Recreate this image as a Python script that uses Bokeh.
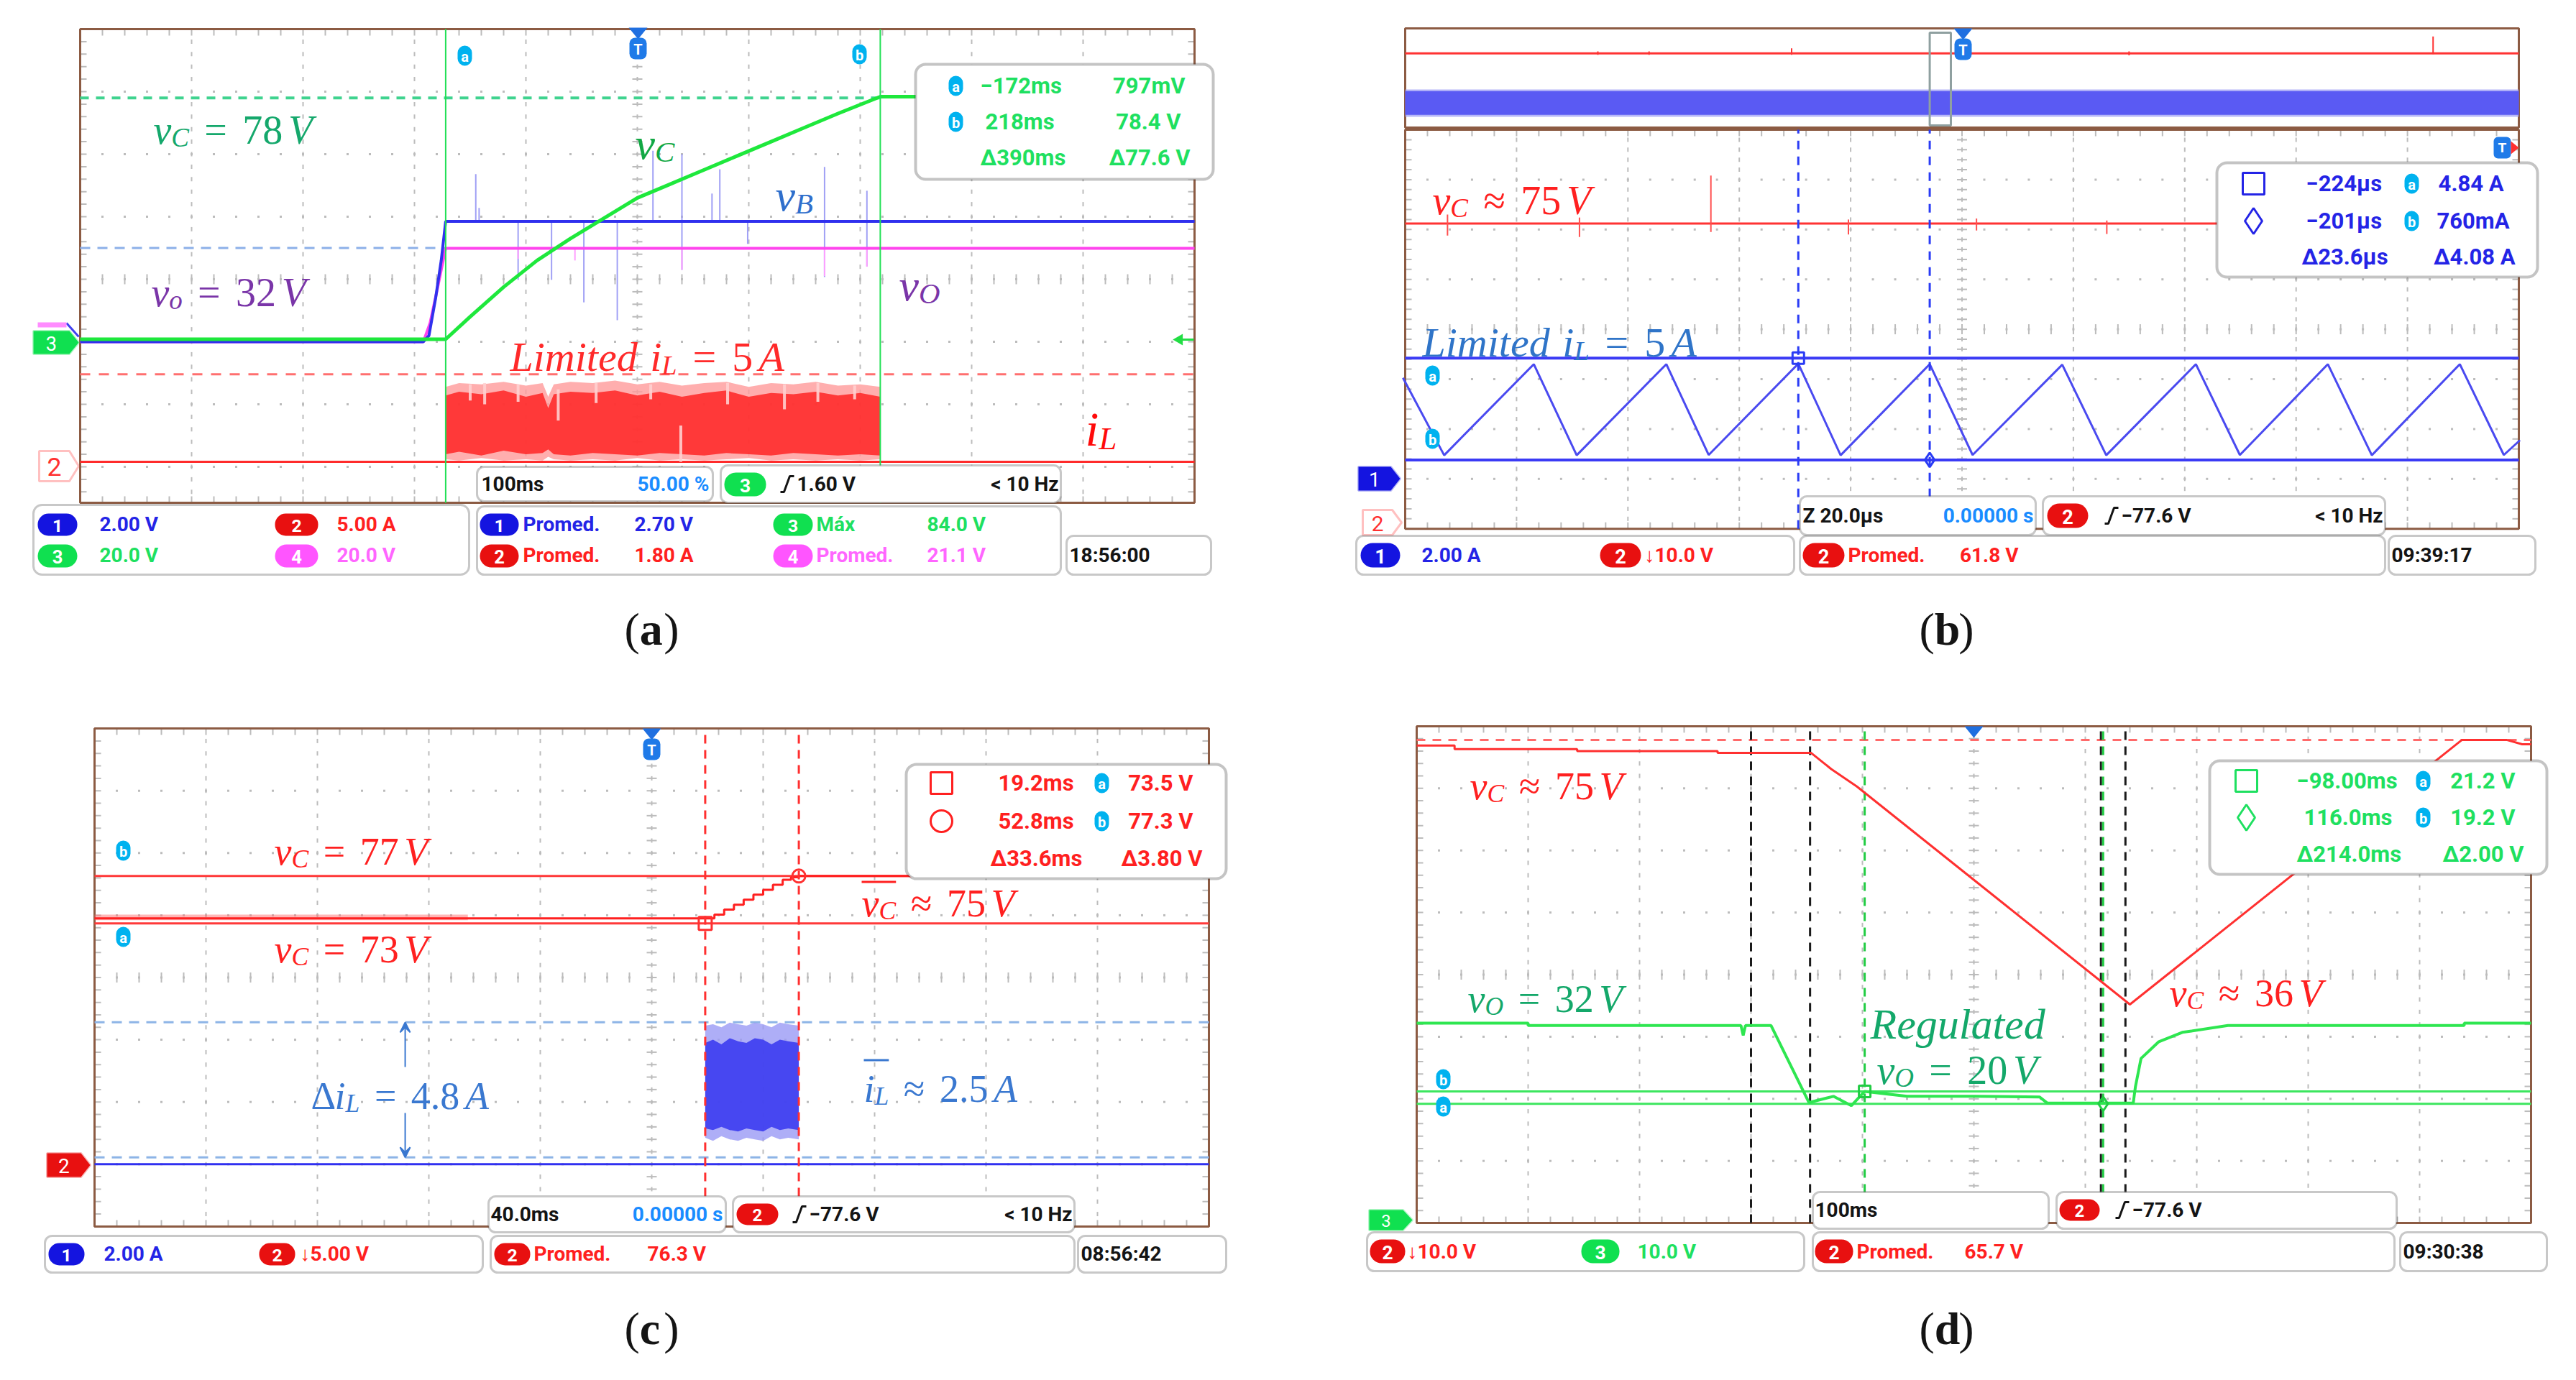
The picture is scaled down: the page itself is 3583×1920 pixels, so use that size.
import math
from bokeh.plotting import figure
from bokeh.models import Range1d, BoxAnnotation, Label, PolyAnnotation, Arrow, VeeHead
from bokeh.layouts import row, column
from bokeh.embed import file_html
from bokeh.resources import INLINE

# ======================= DATA =======================
# ---- (a) start-up, 100 ms/div, t = 0 at screen centre ----
A_CURSOR_T = [-172.0, 218.0]                       # ms
A_VC_T = [-500, -172, -150, -120, -90, -60, -30, 0, 30, 60, 90, 120, 150, 180, 218, 500]
A_VC_V = [0.8, 0.8, 8.0, 17.5, 26.0, 33.0, 39.5, 46.0, 50.5, 55.0, 59.5, 64.0, 68.5, 73.0, 78.4, 78.4]
A_VB_T = [-500, -192, -187, -181, -176, -172, 500]
A_VB_V = [0.0, 0.0, 0.2, 1.4, 2.6, 3.85, 3.85]
A_VB_SPK_T = [-145, -142, -107, -77, -48, -18, 14, 40, 67, 74, 99, 168, 206]
A_VB_SPK_LO = [3.85, 3.85, 1.98, 1.98, 1.26, 0.69, 3.85, 2.3, 3.85, 3.85, 3.13, 2.07, 2.41]
A_VB_SPK_HI = [5.36, 4.28, 3.85, 3.85, 3.85, 3.85, 6.11, 6.0, 4.74, 5.52, 3.85, 5.59, 4.83]
A_VO_T = [-500, -192, -186, -180, -172, 500]
A_VO_V = [0.0, 0.0, 6.0, 16.0, 29.9, 29.9]
A_VO_SPK_T = [-107, -56, 40, 168, 206]
A_VO_SPK_LO = [26.5, 26.0, 23.0, 21.0, 24.0]
A_IL_BASE_T = [-500, 500]
A_IL_BASE_V = [0.0, 0.0]
A_IL_ENV_T = [-172, -160, -140, -120, -100, -85, -80, -75, -60, -40, -20, 0, 20, 40, 60, 80, 100, 120, 140, 160, 180, 200, 218]
A_IL_ENV_HI = [6.0, 6.3, 6.2, 6.4, 6.1, 6.3, 5.2, 6.2, 6.4, 6.3, 6.5, 6.2, 6.4, 6.1, 6.3, 6.4, 6.0, 6.3, 6.2, 6.4, 6.1, 6.2, 6.0]
A_IL_ENV_LO = [0.2, 0.1, 0.3, 0.1, 0.2, 0.1, 0.4, 0.2, 0.1, 0.2, 0.1, 0.3, 0.1, 0.2, 0.1, 0.2, 0.3, 0.1, 0.2, 0.1, 0.2, 0.1, 0.2]
A_IL_CORE_HI = [5.3, 5.6, 5.4, 5.7, 5.2, 5.5, 4.3, 5.4, 5.6, 5.5, 5.7, 5.3, 5.6, 5.2, 5.5, 5.7, 5.2, 5.5, 5.4, 5.6, 5.3, 5.5, 5.2]
A_IL_CORE_LO = [0.6, 0.8, 0.5, 0.9, 0.6, 0.7, 1.0, 0.6, 0.5, 0.7, 0.6, 0.5, 0.7, 0.6, 0.5, 0.7, 0.6, 0.5, 0.7, 0.6, 0.5, 0.6, 0.5]
# lighter streaks seen inside the switching band (time, from, to)
A_IL_STREAK_T = [-150, -137, -107, -71, -37, 12, 39, 81, 132, 162, 195]
A_IL_STREAK_LO = [4.9, 4.6, 4.8, 3.3, 4.7, 5.0, 0.0, 4.6, 4.2, 4.8, 5.0]
A_IL_STREAK_HI = [6.2, 6.3, 6.2, 5.8, 6.3, 6.2, 2.9, 6.3, 6.2, 6.3, 6.1]
A_VC_REF = 78.0      # V  (green dashed)
A_VO_REF = 30.0      # V  (light-blue dashed)
A_IL_LIMIT = 7.0     # A  (red dashed)

# ---- (b) zoomed limited current, 20 us/div ----
B_T_MID = -194.6
B_CURSOR_T = [-224.0, -200.4]                      # us
B_CURSOR_I = [4.84, 0.76]                          # A
B_IL_T = [-295.0, -287.6, -271.5, -263.8, -247.7, -240.1, -224.0, -216.4, -200.4, -192.7,
          -176.6, -168.7, -152.6, -144.7, -128.9, -121.0, -105.2, -97.3, -94.4]
B_IL_A = [4.05, 0.95, 4.60, 0.95, 4.60, 0.96, 4.62, 0.95, 4.60, 0.96,
          4.58, 0.95, 4.60, 0.96, 4.60, 0.95, 4.60, 0.96, 1.55]
B_VC_T = [-294.6, -94.6]
B_VC_V = [60.0, 60.0]
B_VC_SPK_T = [-287.0, -263.3, -239.7, -215.0, -192.0, -168.6]
B_VC_SPK_LO = [57.6, 57.3, 58.3, 57.8, 58.6, 57.9]
B_VC_SPK_HI = [61.8, 61.2, 69.6, 60.8, 61.0, 60.6]
B_OV_X = [0.0, 10.0]                               # record overview (divisions)
B_OV_VC = [60.0, 60.0]
B_OV_SPK_X = [1.73, 2.19, 3.47, 6.5, 9.23]
B_OV_SPK_LO = [59.0, 59.0, 59.0, 58.5, 59.5]
B_OV_SPK_HI = [61.5, 61.5, 63.8, 61.5, 72.9]
B_OV_IL_HI = [4.75, 4.75]
B_OV_IL_LO = [0.60, 0.60]
B_OV_IL_CORE_HI = [4.5, 4.5]
B_OV_IL_CORE_LO = [0.9, 0.9]
B_ZOOM_WIN = [4.71, 4.90]

# ---- (c) 40 ms/div ----
C_CURSOR_T = [19.2, 52.8]                          # ms
C_CURSOR_V = [73.5, 77.3]                          # V
C_VC_T = [-200, 19.2, 22.5, 26.0, 29.5, 33.0, 36.5, 40.0, 43.5, 47.0, 50.0, 52.8, 200]
C_VC_V = [73.9, 73.9, 74.2, 74.6, 75.0, 75.4, 75.8, 76.2, 76.6, 77.0, 77.2, 77.3, 77.3]
C_VC_NOISE_T = [-200, -66]
C_VC_NOISE_LO = [73.75, 73.75]
C_VC_NOISE_HI = [74.2, 74.2]
C_IL_BASE_T = [-200, 200]
C_IL_BASE_A = [0.0, 0.0]
C_IL_ENV_T = [19.2, 22, 25, 28, 31, 34, 37, 40, 43, 46, 49, 52.8]
C_IL_ENV_HI = [4.45, 4.5, 4.4, 4.55, 4.5, 4.45, 4.55, 4.5, 4.4, 4.55, 4.5, 4.45]
C_IL_ENV_LO = [0.85, 0.75, 0.9, 0.8, 0.75, 0.85, 0.8, 0.75, 0.9, 0.8, 0.85, 0.8]
C_IL_CORE_HI = [3.9, 4.0, 3.85, 4.05, 3.95, 3.9, 4.05, 4.0, 3.85, 4.0, 3.95, 3.9]
C_IL_CORE_LO = [1.15, 1.1, 1.2, 1.1, 1.05, 1.15, 1.1, 1.05, 1.2, 1.1, 1.15, 1.1]
C_IL_REF = [4.56, 0.22]
C_ARROW_T = -88.5

# ---- (d) 100 ms/div ----
D_CURSOR_T = [-98.0, 116.0]
D_CURSOR_V = [21.2, 19.2]
D_MARK_T = [-200.0, -147.0, 114.0, 136.0]
D_VC_T = [-500, -466, -466, -356, -356, -230, -230, -146, -128, -105, 140, 438, 478, 492, 500]
D_VC_V = [76.9, 76.9, 76.3, 76.3, 76.0, 76.0, 75.7, 75.7, 73.1, 70.3, 35.2, 77.8, 77.8, 77.1, 77.1]
D_VO_T = [-500, -400, -400, -209, -207, -205, -182, -148, -126, -110, -98, -60, 0, 59, 66, 143, 145,
          150, 166, 187, 228, 440, 440, 500]
D_VO_V = [32.2, 32.2, 31.8, 31.8, 30.2, 31.8, 31.8, 19.4, 20.4, 18.9, 21.2, 20.4, 20.4, 20.3, 19.3,
          19.3, 22.0, 26.5, 29.2, 30.7, 31.8, 31.8, 32.2, 32.2]
D_VC_REF = 77.8

# ---- scope channel settings: (units/div, ground position in div, offset) ----
A_CH1 = (2.0, -1.0, 0.0)
A_CH2 = (5.0, -2.92, 0.0)
A_CH3 = (20.0, -1.0, 0.0)
A_CH4 = (20.0, -1.0, 0.0)
B_CH1 = (2.0, -3.0, 0.0)
B_CH2 = (10.0, -3.88, 0.0)
C_CH1 = (2.0, -3.0, 0.0)
C_CH2 = (5.0, -3.01, 54.1)
D_CH2 = (10.0, -4.0, 0.0)
D_CH3 = (10.0, -4.0, 0.0)

# ======================= styling =======================
FS = "Roboto"
FS_STYLE = "bold"
FM = "Liberation Serif"
SZ_M = 31      # measurement box text
SZ_B = 28      # bottom status boxes
MATH_DY = -9
GRID = "#bcbcbc"
BORDER = "#8c5b43"
CYAN = "#00b2ef"
BLUE_T = "#2424e6"
RED_T = "#ff2020"
GREEN_T = "#1ee060"
MAG_T = "#ff66ff"
BLUE_LT = "#1a8cff"
BLK = "#141414"
BOXLINE = "#4a4a4a"
P_BLUE, P_RED, P_GREEN, P_MAG = "#1414e0", "#e81010", "#10e050", "#ff55ff"

EM_R = {" ": .25, "=": .564, "≈": .548, ".": .25, "A": .722, "V": .722, "Δ": .612, "(": .333, ")": .333}
EM_I = {"v": .444, "i": .278, "L": .556, "C": .667, "B": .611, "O": .722, "o": .5, "V": .611,
        "A": .611, "R": .611, "e": .444, "g": .5, "u": .5, "l": .278, "a": .5, "t": .278,
        "d": .5, "m": .722}


def tx(ts, per, mid=0.0):
    return [5.0 + (t - mid) / per for t in ts]


def vy(vs, ch):
    s, g, o = ch
    return [g + (v - o) / s for v in vs]


class Panel:
    def __init__(self, fx0, fy0, fw, fh, gx0, gyc, dx, dy):
        self.gx0, self.gyc, self.dx, self.dy = gx0, gyc, dx, dy
        self.p = figure(width=fw, height=fh,
                        x_range=Range1d((fx0 - gx0) / dx, (fx0 + fw - gx0) / dx),
                        y_range=Range1d((gyc - (fy0 + fh)) / dy, (gyc - fy0) / dy),
                        output_backend="svg", toolbar_location=None, min_border=0,
                        x_axis_type=None, y_axis_type=None, title=None,
                        outline_line_color=None, background_fill_color="white",
                        border_fill_color="white")

    def X(self, px):
        return (px - self.gx0) / self.dx

    def Y(self, py):
        return (self.gyc - py) / self.dy

    def box(self, l, t, r, b, fill="white", line=BOXLINE, lw=3, radius=10):
        self.p.add_layout(BoxAnnotation(left=self.X(l), right=self.X(r), top=self.Y(t),
                                        bottom=self.Y(b), fill_color=fill, fill_alpha=1.0,
                                        line_color=line, line_width=lw,
                                        border_radius=int(radius)))

    def text(self, x, y, s, color, size, align="left", font=FS, style=FS_STYLE, base="middle"):
        self.p.add_layout(Label(x=self.X(x), y=self.Y(y), text=s, text_color=color,
                                text_font_size=f"{size:.1f}px", text_align=align,
                                text_baseline=base, text_font=font, text_font_style=style))

    def math(self, x, y, parts, color, size):
        y = y + MATH_DY
        cur = x
        pos = []
        for s, k in parts:
            if k == "g":
                cur += s * size
                continue
            if k == "s":
                fs, dyy, st = size * 0.66, size * 0.2, "italic"
            else:
                fs, dyy, st = size, 0.0, ("italic" if k == "i" else "normal")
            self.text(cur, y + dyy, s, color, fs, font=FM, style=st, base="alphabetic")
            w = sum((EM_I if st == "italic" else EM_R).get(c, 0.5) for c in s) * fs
            pos.append((cur, cur + w))
            cur += w
        return pos, y

    def pill(self, l, t, r, b, color, ch):
        self.box(l, t, r, b, fill=color, line=None, lw=0, radius=(b - t) / 2)
        self.text((l + r) / 2, (t + b) / 2 + 1, ch, "white", (b - t) * 0.8, align="center")

    def ctag(self, cx, cy, letter):
        self.box(cx - 10, cy - 14, cx + 10, cy + 14, fill=CYAN, line=None, lw=0, radius=10)
        self.text(cx, cy + 1, letter, "white", 20, align="center")

    def chtag(self, l, t, r, b, fill, line, tcolor, ch):
        xs = [l, r - 13, r, r - 13, l]
        ys = [t, t, (t + b) / 2, b, b]
        self.p.add_layout(PolyAnnotation(xs=[self.X(v) for v in xs], ys=[self.Y(v) for v in ys],
                                         fill_color=fill, fill_alpha=1.0, line_color=line,
                                         line_width=3))
        self.text((l + r - 13) / 2, (t + b) / 2 + 1, ch, tcolor, (b - t) * 0.85, align="center",
                  style="normal")

    def trig(self, cx, top, tag=True):
        self.p.add_layout(PolyAnnotation(xs=[self.X(cx - 13), self.X(cx + 13), self.X(cx)],
                                         ys=[self.Y(top), self.Y(top), self.Y(top + 16)],
                                         fill_color="#1f6fe0", fill_alpha=1.0, line_color=None))
        if tag:
            self.box(cx - 12, top + 14, cx + 12, top + 44, fill="#1f7ae8", line=None, lw=0, radius=8)
            self.text(cx, top + 30, "T", "white", 20, align="center")

    def icon(self, cx, cy, marker, color, size=30):
        r = self.p.scatter([self.X(cx)], [self.Y(cy)], marker=marker, size=size,
                           fill_color=None, line_color=color, line_width=3)
        r.level = "overlay"

    def slope(self, x, cy):
        r = self.p.line([self.X(x), self.X(x + 5), self.X(x + 13), self.X(x + 19)],
                        [self.Y(cy + 11), self.Y(cy + 11), self.Y(cy - 11), self.Y(cy - 11)],
                        line_color=BLK, line_width=3)
        r.level = "overlay"

    def caption(self, cx, base, letter):
        size = 64
        w1, w2, w3 = 0.333 * size, 0.52 * size, 0.333 * size
        st = cx - (w1 + w2 + w3) / 2
        self.text(st, base, "(", BLK, size, font=FM, style="normal", base="alphabetic")
        self.text(st + w1, base, letter, BLK, size, font=FM, style="bold", base="alphabetic")
        self.text(st + w1 + w2, base, ")", BLK, size, font=FM, style="normal", base="alphabetic")


def graticule(P, yb, yt, yc=0.0):
    p = P.p
    hx, hy = [], []
    for j in range(math.ceil(yb + 0.05), math.floor(yt - 0.05) + 1):
        for i in range(1, 50):
            hx.append(i / 5.0)
            hy.append(float(j))
    p.scatter(hx, hy, marker="square", size=3, fill_color=GRID, line_color=None)
    k0 = math.ceil(yb * 5 + 0.01)
    k1 = math.floor(yt * 5 - 0.01)
    x0, y0, x1, y1 = [], [], [], []
    h = 3.0 / P.dy
    for i in range(1, 10):
        for k in range(k0, k1 + 1):
            x0.append(i); x1.append(i); y0.append(k / 5 - h); y1.append(k / 5 + h)
    th, tv = 7.0 / P.dx, 7.0 / P.dy
    for k in range(k0, k1 + 1):
        x0.append(5 - th); x1.append(5 + th); y0.append(k / 5); y1.append(k / 5)
    for i in range(1, 50):
        x0.append(i / 5); x1.append(i / 5); y0.append(yc - tv); y1.append(yc + tv)
    bh, bv = 9.0 / P.dx, 9.0 / P.dy
    for i in range(1, 50):
        x0 += [i / 5, i / 5]; x1 += [i / 5, i / 5]; y0 += [yt, yb]; y1 += [yt - bv, yb + bv]
    for k in range(k0, k1 + 1):
        x0 += [0, 10]; x1 += [bh, 10 - bh]; y0 += [k / 5, k / 5]; y1 += [k / 5, k / 5]
    p.segment(x0=x0, y0=y0, x1=x1, y1=y1, line_color=GRID, line_width=2)
    p.quad(left=[0], right=[10], bottom=[yb], top=[yt], fill_color=None,
           line_color=BORDER, line_width=3)


def std(var, sub, rel, num, unit):
    return [(var, "i"), (sub, "s"), (0.38, "g"), (rel, "r"), (0.38, "g"), (num, "r"),
            (0.14, "g"), (unit, "i")]


LIMITED = [("Limited", "i"), (0.3, "g"), ("i", "i"), ("L", "s"), (0.38, "g"), ("=", "r"),
           (0.38, "g"), ("5", "r"), (0.14, "g"), ("A", "i")]

# ======================= panel (a) =======================
PA = Panel(8, 8, 1783, 952, 119.0, 396.0, 155.0, 87.0)
p = PA.p
graticule(PA, -3.575, 4.0, 0.0)
ta = lambda ts: tx(ts, 100.0)
p.line([0, 10], vy([A_IL_LIMIT] * 2, A_CH2), line_color="#ff6f6f", line_width=3, line_dash="14 12")
p.line([0, ta([A_CURSOR_T[1]])[0]], vy([A_VC_REF] * 2, A_CH3), line_color="#3fd38f",
       line_width=4, line_dash="12 10")
p.line([0, ta([A_CURSOR_T[0]])[0]], vy([A_VO_REF] * 2, A_CH4), line_color="#8cb0e8",
       line_width=3, line_dash="14 10")
p.line(ta(A_IL_BASE_T), vy(A_IL_BASE_V, A_CH2), line_color="#ff2b2b", line_width=3)
p.varea(x=ta(A_IL_ENV_T), y1=vy(A_IL_ENV_LO, A_CH2), y2=vy(A_IL_ENV_HI, A_CH2),
        fill_color="#ff9a9a", fill_alpha=0.8)
p.varea(x=ta(A_IL_ENV_T), y1=vy(A_IL_CORE_LO, A_CH2), y2=vy(A_IL_CORE_HI, A_CH2),
        fill_color="#ff2424", fill_alpha=0.85)
p.segment(x0=ta(A_IL_STREAK_T), y0=vy(A_IL_STREAK_LO, A_CH2), x1=ta(A_IL_STREAK_T),
          y1=vy(A_IL_STREAK_HI, A_CH2), line_color="#ffd0d0", line_width=4, line_alpha=0.9)
p.segment(x0=ta(A_VB_SPK_T), y0=vy(A_VB_SPK_LO, A_CH1), x1=ta(A_VB_SPK_T),
          y1=vy(A_VB_SPK_HI, A_CH1), line_color="#a0a0f5", line_width=2)
p.segment(x0=ta(A_VO_SPK_T), y0=vy(A_VO_SPK_LO, A_CH4), x1=ta(A_VO_SPK_T),
          y1=vy([A_VO_V[-1]] * len(A_VO_SPK_T), A_CH4), line_color="#ffa0ff", line_width=2)
p.line(ta(A_VO_T), vy(A_VO_V, A_CH4), line_color="#ff44ee", line_width=4)
p.line(ta(A_VB_T), vy(A_VB_V, A_CH1), line_color="#3030ee", line_width=4)
p.line(ta(A_VC_T), vy(A_VC_V, A_CH3), line_color="#1ee83c", line_width=5, line_join="round")
for tc in ta(A_CURSOR_T):
    p.line([tc, tc], [-3.575, 4.0], line_color="#22e055", line_width=2)
p.scatter([PA.X(1648)], [PA.Y(480)], marker="triangle", angle=math.pi / 2, size=16,
          fill_color="#22dd44", line_color=None)
p.line([PA.X(1650), PA.X(1668)], [PA.Y(480), PA.Y(480)], line_color="#22dd44", line_width=3)
p.line([PA.X(100), PA.X(117)], [PA.Y(457), PA.Y(476)], line_color="#4040f0", line_width=3)
PA.box(60, 456, 100, 463, fill="#ff8cff", line=None, lw=0, radius=0)
PA.chtag(54, 468, 117, 500, P_GREEN, P_GREEN, "white", "3")
PA.chtag(62, 635, 117, 677, "white", "#ff3030", "#ff3030", "2")
PA.trig(895, 46)
PA.ctag(654, 85, "a")
PA.ctag(1203, 83, "b")
PA.math(221, 197, std("v", "C", "=", "78", "V"), "#15a86c", 56)
PA.math(891, 216, [("v", "i"), ("C", "s")], "#12a844", 62)
PA.math(1086, 288, [("v", "i"), ("B", "s")], "#2f6fcc", 62)
PA.math(218, 423, std("v", "o", "=", "32", "V"), "#7a35a8", 56)
PA.math(1258, 413, [("v", "i"), ("O", "s")], "#7a35a8", 62)
PA.math(717, 513, LIMITED, "#ff2a2a", 58)
PA.math(1517, 613, [("i", "i"), ("L", "s")], "#ff0a0a", 68)
# measurement box
PA.box(1281, 97, 1695, 257, line="#3c3c3c", lw=4, radius=14)
PA.ctag(1337, 127, "a")
PA.text(1371, 127, "−172ms", GREEN_T, SZ_M)
PA.text(1656, 127, "797mV", GREEN_T, SZ_M, align="right")
PA.ctag(1337, 177, "b")
PA.text(1378, 177, "218ms", GREEN_T, SZ_M)
PA.text(1650, 177, "78.4 V", GREEN_T, SZ_M, align="right")
PA.text(1371, 227, "Δ390ms", GREEN_T, SZ_M)
PA.text(1663, 227, "Δ77.6 V", GREEN_T, SZ_M, align="right")
# bottom boxes
PA.box(54, 710, 660, 807, radius=12)
PA.pill(60, 722, 115, 753, P_BLUE, "1"); PA.text(146, 737, "2.00 V", BLUE_T, SZ_B)
PA.pill(390, 722, 450, 753, P_RED, "2"); PA.text(476, 737, "5.00 A", RED_T, SZ_B)
PA.pill(60, 765, 115, 797, P_GREEN, "3"); PA.text(146, 780, "20.0 V", GREEN_T, SZ_B)
PA.pill(390, 765, 450, 797, P_MAG, "4"); PA.text(476, 780, "20.0 V", MAG_T, SZ_B)
PA.box(671, 657, 999, 705)
PA.text(677, 681, "100ms", BLK, SZ_B); PA.text(994, 681, "50.00 %", BLUE_LT, SZ_B, align="right")
PA.box(1010, 655, 1483, 707)
PA.pill(1015, 665, 1073, 698, P_GREEN, "3"); PA.slope(1093, 681)
PA.text(1116, 681, "1.60 V", BLK, SZ_B); PA.text(1480, 681, "< 10 Hz", BLK, SZ_B, align="right")
PA.box(671, 712, 1483, 807)
PA.pill(675, 722, 729, 753, P_BLUE, "1"); PA.text(735, 737, "Promed.", BLUE_T, SZ_B)
PA.text(890, 737, "2.70 V", BLUE_T, SZ_B)
PA.pill(1083, 722, 1138, 753, P_GREEN, "3"); PA.text(1143, 737, "Máx", GREEN_T, SZ_B)
PA.text(1297, 737, "84.0 V", GREEN_T, SZ_B)
PA.pill(675, 765, 729, 797, P_RED, "2"); PA.text(735, 780, "Promed.", RED_T, SZ_B)
PA.text(890, 780, "1.80 A", RED_T, SZ_B)
PA.pill(1083, 765, 1138, 797, P_MAG, "4"); PA.text(1143, 780, "Promed.", MAG_T, SZ_B)
PA.text(1297, 780, "21.1 V", MAG_T, SZ_B)
PA.box(1491, 753, 1692, 807); PA.text(1495, 780, "18:56:00", BLK, SZ_B)
PA.caption(914, 883, "a")

# ======================= panel (b) =======================
PB = Panel(1791, 8, 1784, 952, 1962.0, 465.6, 154.9, 69.4)
p = PB.p
graticule(PB, -4.0, 4.0, 0.0)
tb = lambda ts: tx(ts, 20.0, B_T_MID)
UP_C, UP_S = 4.971, 0.2637
up = lambda vals, ch: [UP_C + UP_S * d for d in vy(vals, ch)]
p.quad(left=[0], right=[10], bottom=[PB.Y(185)], top=[PB.Y(47)], fill_color=None,
       line_color=BORDER, line_width=3)
p.varea(x=B_OV_X, y1=up(B_OV_IL_LO, B_CH1), y2=up(B_OV_IL_HI, B_CH1), fill_color="#9a9af5",
        fill_alpha=0.7)
p.varea(x=B_OV_X, y1=up(B_OV_IL_CORE_LO, B_CH1), y2=up(B_OV_IL_CORE_HI, B_CH1),
        fill_color="#5050f2", fill_alpha=0.9)
p.line(B_OV_X, up(B_OV_VC, B_CH2), line_color="#ff3333", line_width=3)
p.segment(x0=B_OV_SPK_X, y0=up(B_OV_SPK_LO, B_CH2), x1=B_OV_SPK_X, y1=up(B_OV_SPK_HI, B_CH2),
          line_color="#ff3333", line_width=2)
p.quad(left=[B_ZOOM_WIN[0]], right=[B_ZOOM_WIN[1]], bottom=[PB.Y(182)], top=[PB.Y(53)],
       fill_color=None, line_color="#8fa0a0", line_width=3)
p.line(tb(B_VC_T), vy(B_VC_V, B_CH2), line_color="#ff3333", line_width=3)
p.segment(x0=tb(B_VC_SPK_T), y0=vy(B_VC_SPK_LO, B_CH2), x1=tb(B_VC_SPK_T),
          y1=vy(B_VC_SPK_HI, B_CH2), line_color="#ff5050", line_width=2)
for iv in vy(B_CURSOR_I, B_CH1):
    p.line([0, 10], [iv, iv], line_color="#3b3bf5", line_width=4)
p.line(tb(B_IL_T), vy(B_IL_A, B_CH1), line_color="#4a4af0", line_width=3)
for tc in tb(B_CURSOR_T):
    p.line([tc, tc], [-4.0, 4.0], line_color="#2a3cf5", line_width=3, line_dash="12 10")
p.scatter(tb(B_CURSOR_T[:1]), vy(B_CURSOR_I[:1], B_CH1), marker="square", size=16,
          fill_color=None, line_color="#2a3cf5", line_width=3)
p.scatter(tb(B_CURSOR_T[1:]), vy(B_CURSOR_I[1:], B_CH1), marker="diamond", size=20,
          fill_color=None, line_color="#2a3cf5", line_width=3)
PB.chtag(1897, 657, 1955, 690, P_BLUE, P_BLUE, "white", "1")
PB.chtag(1903, 717, 1957, 752, "white", "#ff3030", "#ff3030", "2")
PB.trig(2738, 47)
PB.box(3476, 198, 3500, 228, fill="#1f7ae8", line=None, lw=0, radius=6)
PB.text(3488, 213, "T", "white", 19, align="center")
PB.p.add_layout(PolyAnnotation(xs=[PB.X(3500), PB.X(3511), PB.X(3500)],
                               ys=[PB.Y(204), PB.Y(213), PB.Y(222)], fill_color="#ff3030",
                               fill_alpha=1.0, line_color=None))
PB.ctag(2000, 530, "a")
PB.ctag(2000, 618, "b")
PB.math(2000, 295, std("v", "C", "≈", "75", "V"), "#ff2020", 56)
PB.math(1986, 493, LIMITED, "#2f74c8", 58)
PB.box(3091, 234, 3537, 393, line="#3c3c3c", lw=4, radius=14)
PB.icon(3142, 263, "square", BLUE_T)
PB.text(3215, 263, "−224µs", BLUE_T, SZ_M); PB.ctag(3362, 263, "a")
PB.text(3490, 263, "4.84 A", BLUE_T, SZ_M, align="right")
PB.icon(3142, 315, "diamond", BLUE_T, 36)
PB.text(3215, 315, "−201µs", BLUE_T, SZ_M); PB.ctag(3362, 315, "b")
PB.text(3498, 315, "760mA", BLUE_T, SZ_M, align="right")
PB.text(3209, 365, "Δ23.6µs", BLUE_T, SZ_M)
PB.text(3506, 365, "Δ4.08 A", BLUE_T, SZ_M, align="right")
PB.box(2511, 698, 2839, 752)
PB.text(2515, 725, "Z 20.0µs", BLK, SZ_B); PB.text(2836, 725, "0.00000 s", BLUE_LT, SZ_B, align="right")
PB.box(2849, 698, 3325, 752)
PB.pill(2855, 708, 2912, 742, P_RED, "2"); PB.slope(2935, 725)
PB.text(2958, 725, "−77.6 V", BLK, SZ_B); PB.text(3322, 725, "< 10 Hz", BLK, SZ_B, align="right")
PB.box(1894, 753, 2503, 807)
PB.pill(1900, 763, 1955, 797, P_BLUE, "1"); PB.text(1985, 780, "2.00 A", BLUE_T, SZ_B)
PB.pill(2233, 763, 2290, 797, P_RED, "2"); PB.text(2295, 780, "↓10.0 V", RED_T, SZ_B)
PB.box(2511, 753, 3325, 807)
PB.pill(2515, 763, 2573, 797, P_RED, "2"); PB.text(2578, 780, "Promed.", RED_T, SZ_B)
PB.text(2815, 780, "61.8 V", RED_T, SZ_B, align="right")
PB.box(3330, 753, 3534, 807); PB.text(3334, 780, "09:39:17", BLK, SZ_B)
PB.caption(2715, 883, "b")

# ======================= panel (c) =======================
PC = Panel(8, 960, 1783, 952, 139.0, 1367.5, 155.0, 86.6)
p = PC.p
graticule(PC, -4.0, 4.0, 0.0)
tcf = lambda ts: tx(ts, 40.0)
for iv in vy(C_IL_REF, C_CH1):
    p.line([0, PC.X(1694)], [iv, iv], line_color="#8db4e6", line_width=3, line_dash="14 10")
p.line(tcf(C_IL_BASE_T), vy(C_IL_BASE_A, C_CH1), line_color="#3030f0", line_width=3)
p.varea(x=tcf(C_IL_ENV_T), y1=vy(C_IL_ENV_LO, C_CH1), y2=vy(C_IL_ENV_HI, C_CH1),
        fill_color="#9a9af5", fill_alpha=0.8)
p.varea(x=tcf(C_IL_ENV_T), y1=vy(C_IL_CORE_LO, C_CH1), y2=vy(C_IL_CORE_HI, C_CH1),
        fill_color="#3c3cf0", fill_alpha=0.9)
for cv in vy(C_CURSOR_V, C_CH2):
    p.line([0, 10], [cv, cv], line_color="#ff3a3a", line_width=3)
p.varea(x=tcf(C_VC_NOISE_T), y1=vy(C_VC_NOISE_LO, C_CH2), y2=vy(C_VC_NOISE_HI, C_CH2),
        fill_color="#ff7070", fill_alpha=0.5)
p.step(tcf(C_VC_T), vy(C_VC_V, C_CH2), mode="after", line_color="#ff2020", line_width=3)
for tc in tcf(C_CURSOR_T):
    p.line([tc, tc], [-4.0, 4.0], line_color="#ff3030", line_width=3, line_dash="12 9")
p.scatter(tcf(C_CURSOR_T[:1]), vy(C_CURSOR_V[:1], C_CH2), marker="square", size=18,
          fill_color=None, line_color="#ff3030", line_width=3)
p.scatter(tcf(C_CURSOR_T[1:]), vy(C_CURSOR_V[1:], C_CH2), marker="circle", size=18,
          fill_color=None, line_color="#ff3030", line_width=3)
xa_ = tcf([C_ARROW_T])[0]
ref_y = vy(C_IL_REF, C_CH1)
for ys, ye in [(PC.Y(1492), ref_y[0]), (PC.Y(1556), ref_y[1])]:
    p.add_layout(Arrow(end=VeeHead(size=14, line_color="#3a78d0", fill_color="#3a78d0",
                                   line_width=2),
                       x_start=xa_, y_start=ys, x_end=xa_, y_end=ye,
                       line_color="#3a78d0", line_width=2))
PC.chtag(73, 1612, 133, 1645, P_RED, P_RED, "white", "2")
PC.trig(914, 1021)
PC.ctag(179, 1191, "b")
PC.ctag(179, 1311, "a")
PC.math(389, 1201, std("v", "C", "=", "77", "V"), "#ff2020", 54)
PC.math(389, 1337, std("v", "C", "=", "73", "V"), "#ff2020", 54)
pos, yb_ = PC.math(1206, 1273, std("v", "C", "≈", "75", "V"), "#ff2020", 54)
PC.box(pos[0][0], yb_ - 31, pos[1][1], yb_ - 28, fill="#ff2020", line=None, lw=0, radius=0)
PC.math(440, 1541, [("Δ", "r"), ("i", "i"), ("L", "s"), (0.38, "g"), ("=", "r"), (0.38, "g"),
                    ("4.8", "r"), (0.14, "g"), ("A", "i")], "#3a78d0", 54)
pos, yb_ = PC.math(1209, 1531, std("i", "L", "≈", "2.5", "A"), "#3a78d0", 54)
PC.box(pos[0][0], yb_ - 41, pos[1][1], yb_ - 38, fill="#3a78d0", line=None, lw=0, radius=0)
PC.box(1268, 1071, 1713, 1230, line="#3c3c3c", lw=4, radius=14)
PC.icon(1317, 1097, "square", RED_T)
PC.text(1396, 1097, "19.2ms", RED_T, SZ_M); PC.ctag(1540, 1097, "a")
PC.text(1667, 1097, "73.5 V", RED_T, SZ_M, align="right")
PC.icon(1317, 1150, "circle", RED_T)
PC.text(1396, 1150, "52.8ms", RED_T, SZ_M); PC.ctag(1540, 1150, "b")
PC.text(1667, 1150, "77.3 V", RED_T, SZ_M, align="right")
PC.text(1385, 1202, "Δ33.6ms", RED_T, SZ_M)
PC.text(1680, 1202, "Δ3.80 V", RED_T, SZ_M, align="right")
PC.box(687, 1672, 1017, 1722)
PC.text(690, 1697, "40.0ms", BLK, SZ_B); PC.text(1013, 1697, "0.00000 s", BLUE_LT, SZ_B, align="right")
PC.box(1027, 1672, 1502, 1722)
PC.pill(1032, 1682, 1090, 1712, P_RED, "2"); PC.slope(1110, 1697)
PC.text(1133, 1697, "−77.6 V", BLK, SZ_B); PC.text(1499, 1697, "< 10 Hz", BLK, SZ_B, align="right")
PC.box(70, 1727, 679, 1778)
PC.pill(75, 1737, 125, 1768, P_BLUE, "1"); PC.text(152, 1752, "2.00 A", BLUE_T, SZ_B)
PC.pill(368, 1737, 418, 1768, P_RED, "2"); PC.text(425, 1752, "↓5.00 V", RED_T, SZ_B)
PC.box(690, 1727, 1502, 1778)
PC.pill(695, 1737, 745, 1768, P_RED, "2"); PC.text(750, 1752, "Promed.", RED_T, SZ_B)
PC.text(908, 1752, "76.3 V", RED_T, SZ_B)
PC.box(1507, 1727, 1713, 1778); PC.text(1511, 1752, "08:56:42", BLK, SZ_B)
PC.caption(914, 1856, "c")

# ======================= panel (d) =======================
PD = Panel(1791, 960, 1784, 952, 1978.0, 1363.5, 155.0, 86.4)
p = PD.p
graticule(PD, -4.0, 4.0, 0.0)
td = lambda ts: tx(ts, 100.0)
p.line([0, 10], vy([D_VC_REF] * 2, D_CH2), line_color="#ff6a6a", line_width=3, line_dash="12 10")
for cv in vy(D_CURSOR_V, D_CH3):
    p.line([0, 10], [cv, cv], line_color="#3ce65f", line_width=3)
for tm in td(D_MARK_T):
    p.line([tm, tm], [-4.0, 4.0], line_color="#1a1a1a", line_width=3, line_dash="12 9")
for tc in td(D_CURSOR_T):
    p.line([tc, tc], [-4.0, 4.0], line_color="#22cc44", line_width=3, line_dash="12 9")
p.line(td(D_VC_T), vy(D_VC_V, D_CH2), line_color="#ff3030", line_width=3)
p.line(td(D_VO_T), vy(D_VO_V, D_CH3), line_color="#2ee650", line_width=4)
p.scatter(td(D_CURSOR_T[:1]), vy(D_CURSOR_V[:1], D_CH3), marker="square", size=16,
          fill_color=None, line_color="#22cc44", line_width=3)
p.scatter(td(D_CURSOR_T[1:]), vy(D_CURSOR_V[1:], D_CH3), marker="diamond", size=20,
          fill_color=None, line_color="#22cc44", line_width=3)
PD.chtag(1912, 1691, 1972, 1719, P_GREEN, P_GREEN, "white", "3")
PD.trig(2753, 1018, tag=False)
PD.ctag(2015, 1509, "b")
PD.ctag(2015, 1547, "a")
PD.math(2052, 1110, std("v", "C", "≈", "75", "V"), "#ff2020", 54)
PD.math(2049, 1406, std("v", "O", "=", "32", "V"), "#14a86a", 54)
PD.math(2609, 1441, [("Regulated", "i")], "#14a86a", 60)
PD.math(2618, 1505, std("v", "O", "=", "20", "V"), "#14a86a", 56)
PD.math(3025, 1398, std("v", "C", "≈", "36", "V"), "#ff2020", 54)
PD.box(3081, 1066, 3550, 1224, line="#3c3c3c", lw=4, radius=14)
PD.icon(3132, 1094, "square", GREEN_T)
PD.text(3202, 1094, "−98.00ms", GREEN_T, SZ_M); PD.ctag(3378, 1094, "a")
PD.text(3506, 1094, "21.2 V", GREEN_T, SZ_M, align="right")
PD.icon(3132, 1145, "diamond", GREEN_T, 36)
PD.text(3212, 1145, "116.0ms", GREEN_T, SZ_M); PD.ctag(3378, 1145, "b")
PD.text(3506, 1145, "19.2 V", GREEN_T, SZ_M, align="right")
PD.text(3202, 1196, "Δ214.0ms", GREEN_T, SZ_M)
PD.text(3518, 1196, "Δ2.00 V", GREEN_T, SZ_M, align="right")
PD.box(2529, 1666, 2857, 1717); PD.text(2532, 1691, "100ms", BLK, SZ_B)
PD.box(2868, 1666, 3341, 1717)
PD.pill(2872, 1676, 2928, 1706, P_RED, "2"); PD.slope(2950, 1691)
PD.text(2973, 1691, "−77.6 V", BLK, SZ_B)
PD.box(1909, 1722, 2517, 1776)
PD.pill(1913, 1732, 1962, 1765, P_RED, "2"); PD.text(1965, 1749, "↓10.0 V", RED_T, SZ_B)
PD.pill(2207, 1732, 2260, 1765, P_GREEN, "3"); PD.text(2285, 1749, "10.0 V", GREEN_T, SZ_B)
PD.box(2529, 1722, 3338, 1776)
PD.pill(2532, 1732, 2585, 1765, P_RED, "2"); PD.text(2590, 1749, "Promed.", RED_T, SZ_B)
PD.text(2740, 1749, "65.7 V", RED_T, SZ_B)
PD.box(3346, 1722, 3550, 1776); PD.text(3350, 1749, "09:30:38", BLK, SZ_B)
PD.caption(2715, 1856, "d")

layout = column(row(PA.p, PB.p), row(PC.p, PD.p))
with open("out.html", "w", encoding="utf-8") as f:
    f.write(file_html(layout, INLINE, title="Oscillograms"))
